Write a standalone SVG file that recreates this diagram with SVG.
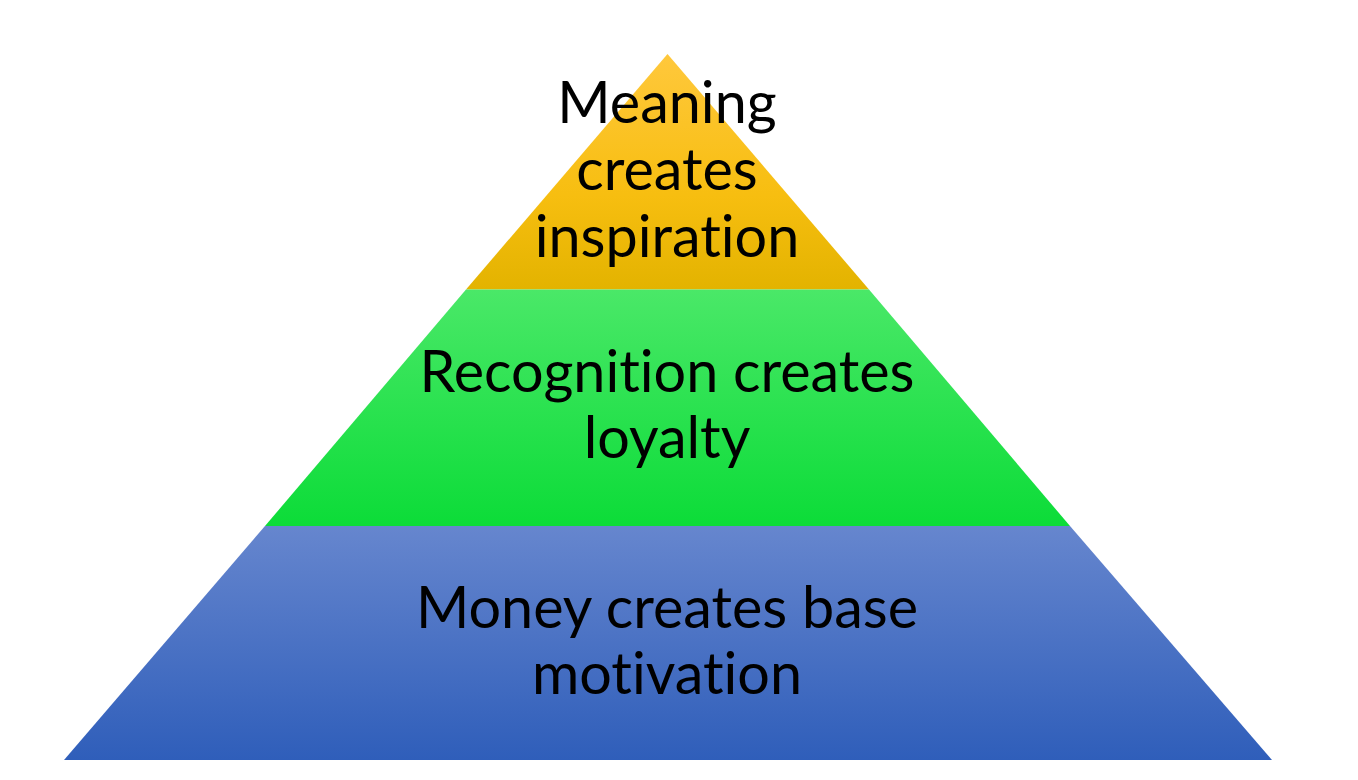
<svg xmlns="http://www.w3.org/2000/svg" width="1358" height="780" viewBox="0 0 1358 780">
<defs>
<linearGradient id="gy" x1="0" y1="0" x2="0" y2="1"><stop offset="0" stop-color="#FFC83C"/><stop offset="0.6" stop-color="#F7BE10"/><stop offset="1" stop-color="#E3B300"/></linearGradient>
<linearGradient id="gg" x1="0" y1="0" x2="0" y2="1"><stop offset="0" stop-color="#4AE868"/><stop offset="1" stop-color="#0CDC38"/></linearGradient>
<linearGradient id="gb" x1="0" y1="0" x2="0" y2="1"><stop offset="0" stop-color="#6686CE"/><stop offset="1" stop-color="#2F5EBA"/></linearGradient>
<style>
.t{font-family:"Lato","Open Sans","Liberation Sans",sans-serif;font-size:57.5px;fill:#000;text-anchor:middle;font-variant-ligatures:none;font-feature-settings:"liga" 0,"dlig" 0}
</style>
</defs>
<rect width="1358" height="780" fill="#fff"/>
<g id="top">
<polygon points="667.5,54 869,289.5 466,289.5" fill="url(#gy)"/>
<text class="t" x="667" y="123">Meaning</text>
<text class="t" x="667" y="190">creates</text>
<text class="t" x="667" y="257">inspiration</text>
</g>
<g id="middle">
<polygon points="466,289.5 869,289.5 1070,526 265,526" fill="url(#gg)"/>
<text class="t" x="667" y="392">Recognition creates</text>
<text class="t" x="667" y="458">loyalty</text>
</g>
<g id="bottom">
<polygon points="265,526 1070,526 1272,760 64,760" fill="url(#gb)"/>
<text class="t" x="667" y="628">Money creates base</text>
<text class="t" x="667" y="694">motivation</text>
</g>
<g id="connectors"/>
</svg>
